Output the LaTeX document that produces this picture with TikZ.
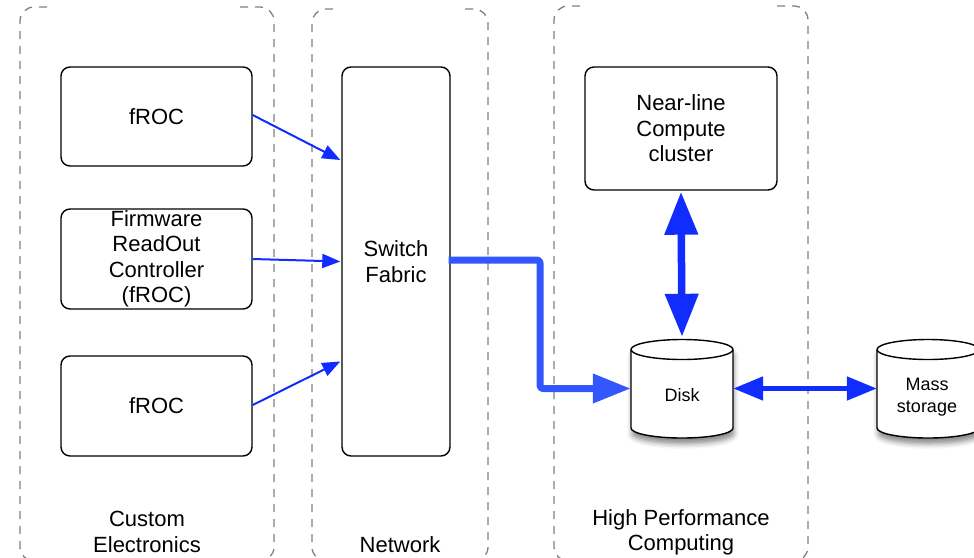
\documentclass[tikz,border=0pt]{standalone}
\usepackage{fontspec}
\setmainfont{Liberation Sans}
\usetikzlibrary{arrows.meta,calc,shadows.blur}
\definecolor{linkblue}{RGB}{16,44,255}
\definecolor{flowblue}{RGB}{52,86,255}
\definecolor{framegray}{RGB}{128,128,128}
\tikzset{
  group/.style={draw=framegray, line width=1.3pt, dash pattern=on 8pt off 7pt, rounded corners=14pt},
  unit/.style={draw, line width=1.4pt, rounded corners=9pt, fill=white, align=center,
    inner sep=0pt, font=\fontsize{22}{25.5}\selectfont},
  caption/.style={align=center, font=\fontsize{22}{25.5}\selectfont},
  store/.style={minimum width=102pt, minimum height=99pt, inner sep=0pt},
  storetext/.style={align=center, font=\fontsize{18}{21.5}\selectfont},
  drum/.style={line width=1.4pt, fill=white},
  feed/.style={draw=linkblue, line width=2pt, -{Triangle[length=18pt,width=14pt]}},
  uplink/.style={draw=flowblue, line width=7pt, line join=round, rounded corners=3pt,
    -{Triangle[length=38pt,width=28pt]}},
  bigboth/.style={draw=linkblue, line width=7.5pt,
    {Triangle[length=43pt,width=32pt]}-{Triangle[length=43pt,width=32pt]}},
  midboth/.style={draw=linkblue, line width=5pt,
    {Triangle[length=30pt,width=23pt]}-{Triangle[length=30pt,width=23pt]}},
}
% column frame with open top and bottom edges: left, right, top, bottom, left stub, right stub
\newcommand\columnframe[6]{%
  \draw[group] ({#1+#5},#3) -- (#1,#3) -- (#1,#4) -- ({#1+#5},#4);
  \draw[group] ({#2-#6},#3) -- (#2,#3) -- (#2,#4) -- ({#2-#6},#4);
}
% cylinder: left x, right x, top-ellipse centre y, bottom-ellipse centre y
\newcommand\drumbody[4]{%
  \pgfmathsetmacro\drumrx{(#2-#1)/2}%
  \draw[drum, blur shadow={shadow xshift=1pt, shadow yshift=-6pt, shadow blur radius=5pt, shadow opacity=45}]
    (#1,#3) -- (#1,#4) arc[start angle=180, end angle=360, x radius=\drumrx pt, y radius=10pt]
    -- (#2,#3) arc[start angle=0, end angle=180, x radius=\drumrx pt, y radius=10pt] -- cycle;
  \draw[drum, fill=none] (#1,#3) arc[start angle=180, end angle=360, x radius=\drumrx pt, y radius=10pt];
}
\begin{document}
\begin{tikzpicture}[x=1pt, y=-1pt]
\useasboundingbox (0,0) rectangle (974,557);

% dashed column frames
\columnframe{20}{274}{7}{561}{27}{34}
\columnframe{312}{488}{9}{561}{21}{23}
\columnframe{554}{808}{6}{561}{26}{31}

% column captions
\node[caption] (capce) at (147,532) {Custom\\Electronics};
\node[caption] (capnet) at (400,545) {Network};
\node[caption] (caphpc) at (681,532.5) {High Performance\\Computing};

% readout controllers
\node[unit, minimum width=191pt, minimum height=99pt] (f1) at (156.5,116.5) {fROC};
\node[unit, minimum width=191pt, minimum height=100pt] (fw) at (156.5,259) {Firmware\\ReadOut\\Controller\\(fROC)};
\node[unit, minimum width=191pt, minimum height=100pt] (f3) at (156.5,406) {fROC};

% switch
\node[unit, minimum width=108pt, minimum height=389pt] (sw) at (396,261.5) {Switch\\Fabric};

% compute cluster
\node[unit, minimum width=192pt, minimum height=123pt] (nl) at (681,128.5) {Near-line\\Compute\\cluster};

% storage cylinders
\drumbody{631}{733}{349.5}{428}
\drumbody{877}{979}{349.5}{428}
\node[store] (disk) at (682,388.5) {};
\node[store] (mass) at (928,388.5) {};
\node[storetext] (disklbl) at (682,395) {Disk};
\node[storetext] (masslbl) at (927,397) {Mass\\storage};

% links into the switch
\coordinate (in1) at ($(sw.north west)!0.24!(sw.south west)$);
\coordinate (in3) at ($(sw.north west)!0.756!(sw.south west)$);
\draw[feed] ([yshift=1.5pt]f1.east) -- ([xshift=-1pt]in1);
\draw[feed] (fw.east) -- ([xshift=-1pt]sw.west);
\draw[feed] ([yshift=1pt]f3.east) -- ([xshift=-1pt]in3);

% switch to disk
\coordinate (bend) at (540,260);
\draw[uplink] ([xshift=-2pt,yshift=1.5pt]sw.east) -- (bend) |- (disk.west);

% cluster <-> disk, disk <-> mass storage
\draw[bigboth] ([yshift=-1pt]nl.south) -- ([yshift=2pt]disk.north);
\draw[midboth] (disk.east) -- (mass.west);
\end{tikzpicture}
\end{document}
